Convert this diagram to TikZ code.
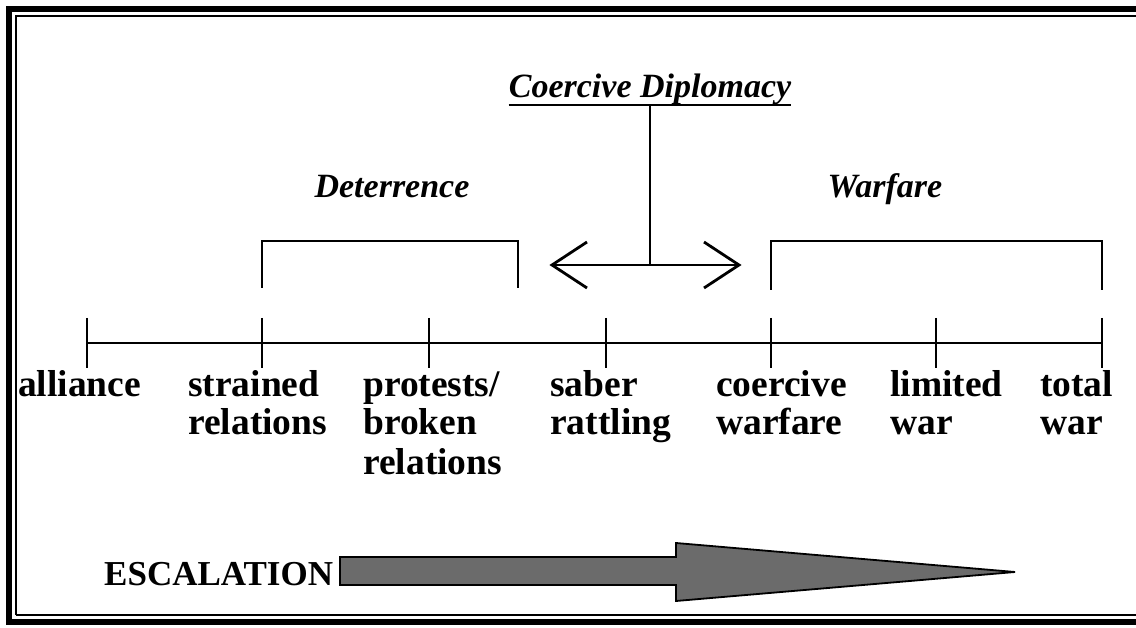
\documentclass[tikz,border=0pt]{standalone}
\usepackage{fontspec}
\setmainfont{Liberation Serif}
\usetikzlibrary{calc}
\begin{document}
\begin{tikzpicture}[x=1pt,y=-1pt,
  ln/.style={line width=2.8pt},
  frthick/.style={line width=6pt},
  frthin/.style={line width=1.6pt},
  lbl/.style={anchor=base west,inner sep=0pt,font=\fontsize{37.5}{39}\selectfont\bfseries},
  ttl/.style={anchor=base,inner sep=0pt,font=\fontsize{34}{40}\selectfont\bfseries\itshape},
  bigarrow/.style={draw=black,line width=1.8pt,fill=black!58,line join=miter}]
\useasboundingbox (0,0) rectangle (1136,628);
% frame
\draw[frthick] (9,622) -- (9,9) -- (1136,9);
\draw[frthick] (6,622) -- (1136,622);
\draw[frthin] (16,615) -- (16,16) -- (1136,16);
\draw[frthin] (16,615) -- (1136,615);
% tick coordinates
\coordinate (t1) at (87,343);
\coordinate (t2) at (262,343);
\coordinate (t3) at (429,343);
\coordinate (t4) at (606,343);
\coordinate (t5) at (771,343);
\coordinate (t6) at (936,343);
\coordinate (t7) at (1102,343);
\draw[ln] (t1) -- (t7);
\foreach \t in {t1,t2,t3,t4,t5,t6,t7}
  \draw[ln] ($(\t)+(0,-25)$) -- ($(\t)+(0,25)$);
% labels
\node[lbl] (lA) at (18,396) {\begin{tabular}[t]{@{}l@{}}alliance\end{tabular}};
\node[lbl] (lB) at (188,396) {\begin{tabular}[t]{@{}l@{}}strained\\relations\end{tabular}};
\node[lbl] (lC) at (363,396) {\begin{tabular}[t]{@{}l@{}}protests/\\broken\\relations\end{tabular}};
\node[lbl] (lD) at (550,396) {\begin{tabular}[t]{@{}l@{}}saber\\rattling\end{tabular}};
\node[lbl] (lE) at (716,396) {\begin{tabular}[t]{@{}l@{}}coercive\\warfare\end{tabular}};
\node[lbl] (lF) at (890,396) {\begin{tabular}[t]{@{}l@{}}limited\\war\end{tabular}};
\node[lbl] (lG) at (1040,396) {\begin{tabular}[t]{@{}l@{}}total\\war\end{tabular}};
% brackets
\node[ttl] (det) at (392,198) {Deterrence};
\node[ttl] (war) at (885,198) {Warfare};
\coordinate (d1) at (262,288);
\coordinate (d2) at (518,288);
\draw[ln] (d1) -- ($(d1)+(0,-47)$) -| (d2);
\coordinate (w1) at (771,290);
\coordinate (w2) at (1102,290);
\draw[ln] (w1) -- ($(w1)+(0,-49)$) -| (w2);
% coercive diplomacy
\node[ttl] (cd) at (650,98) {Coercive Diplomacy};
\draw[ln] ($(cd.base west)+(0,7)$) -- ($(cd.base east)+(0,7)$);
\coordinate (aL) at (552,265);
\coordinate (aR) at (739,265);
\coordinate (aM) at (650,265);
\draw[ln] ($(cd.base)+(0,7)$) -- (aM);
\draw[ln] (aL) -- (aR);
\draw[ln,line join=miter] ($(aL)+(35,-23)$) -- (aL) -- ($(aL)+(35,23)$);
\draw[ln,line join=miter] ($(aR)+(-35,-23)$) -- (aR) -- ($(aR)+(-35,23)$);
% escalation
\node[anchor=base west,inner sep=0pt,font=\fontsize{35}{40}\selectfont\bfseries] (esc) at (104,585) {ESCALATION};
\draw[bigarrow] (340,557) -- (676,557) -- (676,543) -- (1015,572) -- (676,601) -- (676,585) -- (340,585) -- cycle;
\end{tikzpicture}
\end{document}
